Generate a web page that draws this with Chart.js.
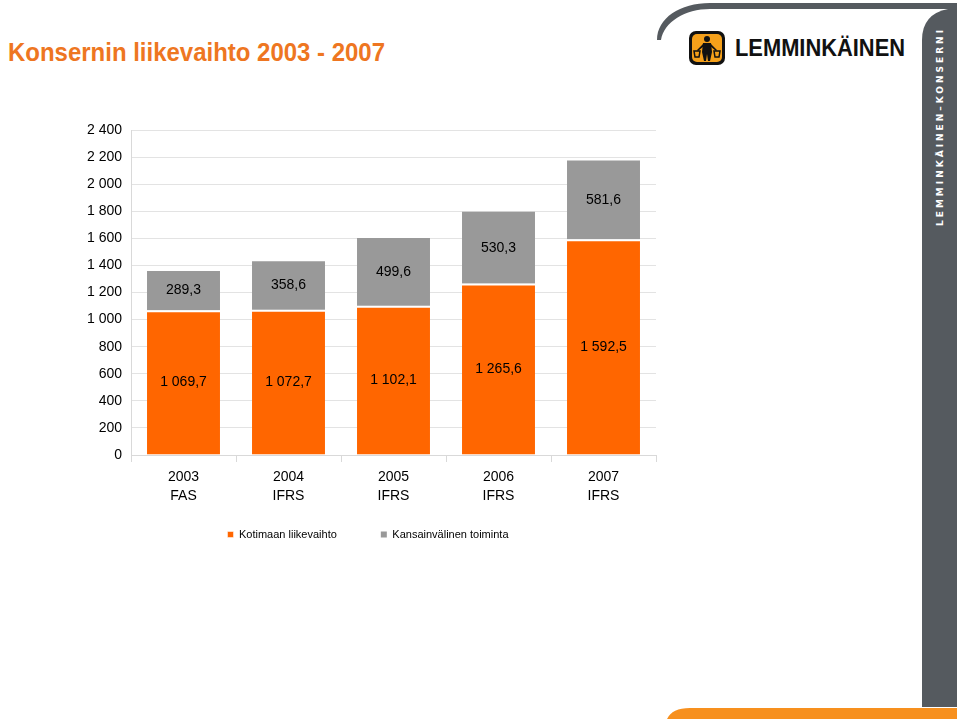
<!DOCTYPE html>
<html>
<head>
<meta charset="utf-8">
<script src="https://cdn.jsdelivr.net/npm/chart.js@4.4.1/dist/chart.umd.min.js"></script>
<style>
  html, body { margin: 0; padding: 0; background: #fff; }
  #page { position: relative; width: 960px; height: 720px; overflow: hidden; }
  #decor { position: absolute; left: 0; top: 0; }
  #chartBox { position: absolute; left: 0; top: 0; width: 740px; height: 581px; }
</style>
</head>
<body>
<div id="page">
  <svg id="decor" width="960" height="720" xmlns="http://www.w3.org/2000/svg">
    <text x="8" y="61" font-family="Liberation Sans, Arial, sans-serif" font-weight="bold" font-size="25" fill="#EE7621" textLength="377" lengthAdjust="spacingAndGlyphs">Konsernin liikevaihto 2003 - 2007</text>
    <!-- top swoosh -->
    <path d="M 657 40 C 657 18, 680 3, 710 3 L 957 3 L 957 9 L 710 9 C 685 9, 664 22, 661 40 Z" fill="#555a5f"/>
    <!-- right side bar -->
    <path d="M 922 707 L 922 40 Q 922 14 948 9 L 957 9 L 957 707 Z" fill="#555a5f"/>
    <text x="943" y="226" transform="rotate(-90 943 226)" font-family="DejaVu Sans, sans-serif" font-weight="bold" font-size="9" fill="#ffffff" textLength="196" lengthAdjust="spacing">LEMMINKÄINEN–KONSERNI</text>
    <!-- bottom orange strip -->
    <path d="M 667 719 Q 672 708 690 708 L 957 708 L 957 719 Z" fill="#F7901E"/>
    <!-- logo -->
    <rect x="689" y="31" width="36" height="34" rx="7" fill="#111"/>
    <rect x="692" y="34" width="30" height="28" rx="5" fill="#F5A01A"/>
    <circle cx="707" cy="39" r="3" fill="#111"/>
    <path d="M 703 43 L 711 43 L 712 52 L 710 61 L 708 61 L 707 54 L 706 61 L 704 61 L 702 52 Z" fill="#111"/>
    <path d="M 703 44 L 697 50 L 698 51 L 704 46 Z M 711 44 L 717 50 L 716 51 L 710 46 Z" fill="#111"/>
    <path d="M 694 51 L 700 51 L 699 57 L 695 57 Z M 714 51 L 720 51 L 719 57 L 715 57 Z" fill="none" stroke="#111" stroke-width="1.5"/>
    <text x="735" y="56" font-family="Liberation Sans, Arial, sans-serif" font-weight="bold" font-size="24" fill="#111" textLength="170" lengthAdjust="spacingAndGlyphs">LEMMINKÄINEN</text>
  </svg>
  <div id="chartBox"><canvas id="revenueChart"></canvas></div>
</div>
<script>
// Data
const years = [["2003", "FAS"], ["2004", "IFRS"], ["2005", "IFRS"], ["2006", "IFRS"], ["2007", "IFRS"]];
const domesticRevenue = [1069.7, 1072.7, 1102.1, 1265.6, 1592.5];
const internationalRevenue = [289.3, 358.6, 499.6, 530.3, 581.6];
const seriesNames = ["Kotimaan liikevaihto", "Kansainvälinen toiminta"];
const yMax = 2400;
const yStep = 200;

// Finnish number formatting: "1 069,7"
const fmt = (v, decimals) => {
    const parts = v.toFixed(decimals).split(".");
    const intPart = parts[0].replace(/\B(?=(\d{3})+(?!\d))/g, " ");
    return parts.length > 1 ? intPart + "," + parts[1] : intPart;
};

Chart.defaults.font.family = "'Liberation Sans', Arial, sans-serif";
Chart.defaults.color = "#000";

// Value labels in the middle of each bar segment
const segmentLabels = {
    id: "segmentLabels",
    afterDatasetsDraw(chart) {
        const ctx = chart.ctx;
        ctx.save();
        ctx.font = "14px 'Liberation Sans', Arial, sans-serif";
        ctx.fillStyle = "#000";
        ctx.textAlign = "center";
        ctx.textBaseline = "middle";
        chart.data.datasets.forEach((ds, i) => {
            chart.getDatasetMeta(i).data.forEach((bar, j) => {
                const y = (bar.y + bar.base) / 2;
                ctx.fillText(fmt(ds.data[j], 1), bar.x, y);
            });
        });
        ctx.restore();
    }
};

// Pull the legend a bit closer to the axis labels (wide item gap, small vertical gap)
const legendLift = {
    id: "legendLift",
    afterLayout(chart) {
        const lg = chart.legend;
        lg.top -= 22;
        lg.bottom -= 22;
    }
};

const ctx = document.getElementById("revenueChart").getContext("2d");
new Chart(ctx, {
    type: "bar",
    data: {
        labels: years,
        datasets: [
            {
                label: seriesNames[0],
                data: domesticRevenue,
                backgroundColor: "#FF6600",
                borderColor: "#ffffff",
                borderWidth: { top: 2, left: 0, right: 0, bottom: 0 },
                categoryPercentage: 1,
                barPercentage: 0.695
            },
            {
                label: seriesNames[1],
                data: internationalRevenue,
                backgroundColor: "#999999",
                borderWidth: 0,
                categoryPercentage: 1,
                barPercentage: 0.695
            }
        ]
    },
    options: {
        responsive: true,
        maintainAspectRatio: false,
        animation: false,
        layout: { padding: { top: 130, left: 80, right: 84, bottom: 9 } },
        plugins: {
            tooltip: { enabled: false },
            legend: {
                position: "bottom",
                labels: {
                    boxWidth: 6,
                    boxHeight: 6,
                    padding: 44,
                    color: "#000",
                    font: { size: 11 }
                }
            }
        },
        scales: {
            x: {
                stacked: true,
                grid: { drawOnChartArea: false, drawTicks: true, tickLength: 7, color: "#d9d9d9" },
                border: { color: "#d9d9d9" },
                ticks: { padding: 6, font: { size: 14, lineHeight: 1.36 }, color: "#000" },
                afterFit: (scale) => { scale.height = 52; }
            },
            y: {
                stacked: true,
                min: 0,
                max: yMax,
                ticks: {
                    stepSize: yStep,
                    padding: 9,
                    font: { size: 14 },
                    color: "#000",
                    callback: (v) => fmt(v, 0)
                },
                grid: { drawTicks: false, color: "#e3e3e3" },
                border: { color: "#d9d9d9" },
                afterFit: (scale) => { scale.width = 51; }
            }
        }
    },
    plugins: [segmentLabels, legendLift]
});
</script>
</body>
</html>
